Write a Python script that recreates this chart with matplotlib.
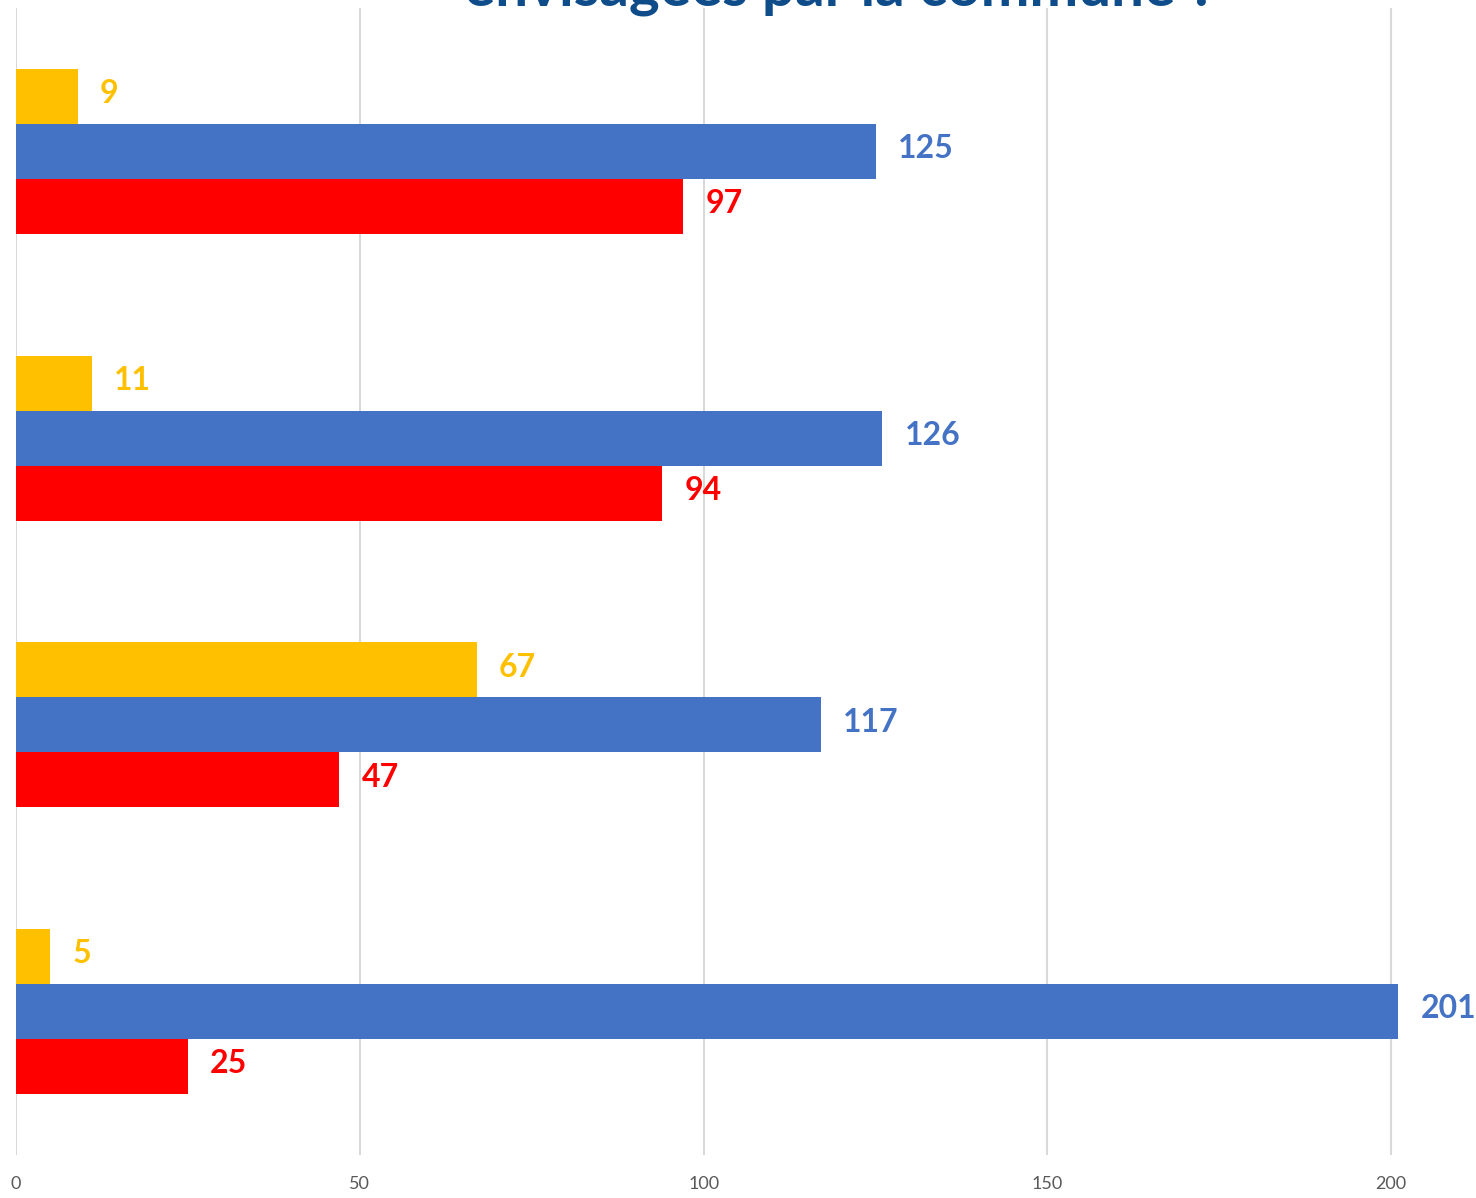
import numpy as np
import matplotlib.pyplot as plt

plt.rcParams['font.family'] = ['Lato', 'DejaVu Sans']

# valeurs (de haut en bas)
jaune = [9, 11, 67, 5]
bleu = [125, 126, 117, 201]
rouge = [97, 94, 47, 25]
x_ticks = [0, 50, 100, 150, 200]

c_jaune = '#FFC000'
c_bleu = '#4472C4'
c_rouge = '#FF0000'

fig = plt.figure(figsize=(14.76, 11.98), dpi=100)
ax = fig.add_axes([16 / 1476, 1 - 1155 / 1198, 1444 / 1476, 1147 / 1198])

pos = np.arange(len(bleu))
h = 0.192

series = [(jaune, c_jaune, -h), (bleu, c_bleu, 0), (rouge, c_rouge, h)]
for vals, col, dy in series:
    bars = ax.barh(pos + dy, vals, height=h, color=col, zorder=2)
    for b, v in zip(bars, vals):
        ax.annotate(str(v), (b.get_width(), b.get_y() + b.get_height() / 2),
                    xytext=(16, 2), textcoords='offset points',
                    ha='left', va='center', fontsize=23, fontweight='bold',
                    color=col, annotation_clip=False)

ax.set_xlim(0, 210)
ax.set_ylim(len(bleu) - 0.5, -0.5)
ax.set_xticks(x_ticks)
ax.set_yticks([])
ax.tick_params(axis='x', length=0, pad=15, labelsize=13, labelcolor='#595959')
ax.grid(axis='x', color='#D9D9D9', linewidth=1.5, zorder=0)
for s in ax.spines.values():
    s.set_visible(False)

# titre coupé en haut de l'image
fig.text(840 / 1476, 1 - 5 / 1198, 'envisagées par la commune ?',
         ha='center', va='baseline', fontsize=42, fontweight='bold',
         color='#0F4C8A')

fig.savefig('out.png', dpi=100)
